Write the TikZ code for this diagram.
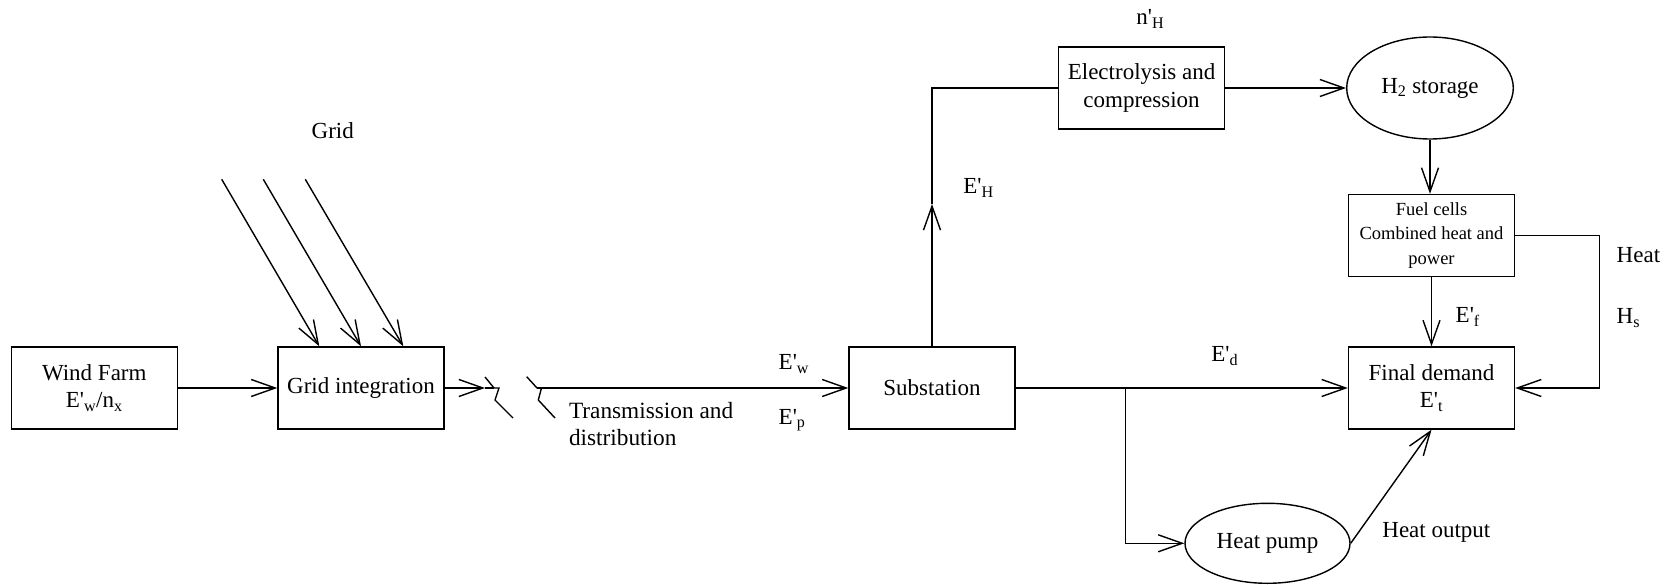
\documentclass[tikz,border=0pt]{standalone}
\usepackage{fontspec}
\setmainfont{Liberation Serif}[Ligatures=TeX]
\usetikzlibrary{arrows.meta,shapes.geometric}
\newcommand{\myq}{\textquotesingle}
\begin{document}
\begin{tikzpicture}[x=1pt,y=-1pt,
  line width=1.4pt,
  every node/.style={font=\rmfamily\fontsize{23}{27.5}\selectfont, inner sep=0pt},
  box/.style={draw, line width=1.4pt, minimum width=166pt, minimum height=82pt, align=center},
  oval/.style={draw, ellipse, line width=1.4pt, align=center},
  lbl/.style={anchor=base west},
  arr/.style={-{Straight Barb[length=24pt,width=17pt]}}]
\useasboundingbox (0,0) rectangle (1665,585);

% boxes
\node[box] (wind) at (94.3,388) {Wind Farm\\E\myq\textsubscript{w}/n\textsubscript{x}};
\node[box] (grid) at (361,388) {Grid integration};
\node[box] (sub) at (932,388) {Substation};
\node[box] (elec) at (1141.6,88) {Electrolysis and\\compression};
\node[box, font=\rmfamily\fontsize{18.5}{24.2}\selectfont] (fuel) at (1431.5,235.5) {Fuel cells\\Combined heat and\\power};
\node[box, font=\rmfamily\fontsize{23}{26.5}\selectfont] (final) at (1431.5,388) {Final demand\\E\myq\textsubscript{t}};
\node[oval, minimum width=166.6pt, minimum height=102pt] (h2) at (1430,88) {H\textsubscript{2} storage};
\node[oval, minimum width=165pt, minimum height=80pt] (hp) at (1267.5,543.3) {Heat pump};

% grid inputs
\coordinate (g1) at (221.7,179.3);
\coordinate (g2) at (263.3,179.3);
\coordinate (g3) at (305.3,179.3);
\draw[arr] (g1) -- ([xshift=-41.7pt]grid.north);
\draw[arr] (g2) -- (grid.north);
\draw[arr] (g3) -- ([xshift=42.3pt]grid.north);

\draw[arr] (wind.east) -- (grid.west);

% transmission break symbols
\coordinate (t1) at (485,388);
\coordinate (t2) at (537,388);
\draw[arr] (grid.east) -- (t1);
\draw (t1) -- (494,388);
\draw (485,377) -- (494,388) -- (499,388) -- (495,400) -- (513,418);
\draw (526.7,376.7) -- (t2) -- (541.5,388) -- (538.3,400) -- (555,418);
\draw[arr] (t2) -- (sub.west);

% hydrogen branch
\coordinate (eh) at (932,204);
\draw[arr] (sub.north) -- (eh);
\draw (eh) |- (elec.west);
\draw[arr] (elec.east) -- (h2.west);
\draw[arr] (h2.south) -- (h2.south |- fuel.north);
\draw[arr] (fuel.south) -- (final.north);
\draw[arr] (fuel.east) -- ++(84,0) |- (final.east);

% demand
\draw[arr] (sub.east) -- (final.west);
\coordinate (br) at (1125.7,388);
\draw[arr] (br) |- (hp.west);
\draw[arr] (hp.east) -- (final.south);

% labels
\node[lbl] (lgrid) at (311,138.5) {Grid};
\node[anchor=north west, align=left, font=\rmfamily\fontsize{23.3}{26.3}\selectfont] (ltd) at (568.3,402) {Transmission and\\distribution};
\node[lbl] (lew) at (778,369.3) {E\myq\textsubscript{w}};
\node[lbl] (lep) at (778,424) {E\myq\textsubscript{p}};
\node[lbl] (leh) at (962.7,194) {E\myq\textsubscript{H}};
\node[lbl] (lnh) at (1135.7,25) {n\myq\textsubscript{H}};
\node[lbl] (led) at (1210.7,361.7) {E\myq\textsubscript{d}};
\node[lbl] (lef) at (1455,323) {E\myq\textsubscript{f}};
\node[lbl] (lheat) at (1616,262.5) {Heat};
\node[lbl] (lhs) at (1616,323.3) {H\textsubscript{s}};
\node[lbl] (lho) at (1381.7,537.7) {Heat output};
\end{tikzpicture}
\end{document}
